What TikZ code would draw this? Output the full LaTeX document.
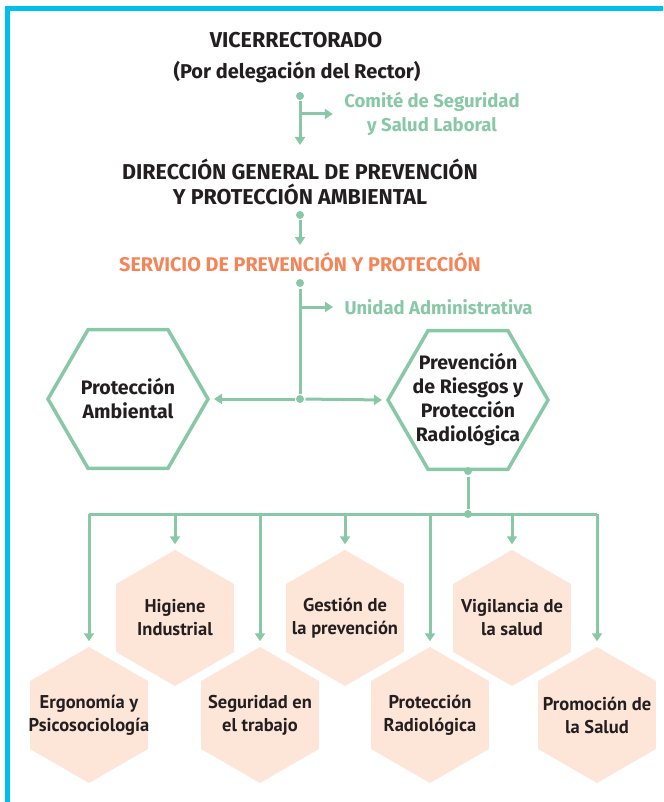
\documentclass[tikz,border=0pt]{standalone}
\usepackage{fontspec}
\setmainfont{Fira Sans}
\newfontfamily\narrowfont{PT Sans}
\usetikzlibrary{arrows.meta,shapes.geometric}
\definecolor{verde}{RGB}{136,200,166}
\definecolor{melocoton}{RGB}{253,229,216}
\definecolor{naranja}{RGB}{243,133,89}
\definecolor{celeste}{RGB}{0,190,240}
\definecolor{tinta}{RGB}{35,31,32}

\def\ux{1pt}
\def\uy{-1pt}

\begin{document}
\begin{tikzpicture}[x=\ux,y=\uy,font=\bfseries,line width=3pt]
		\tikzset{
			link/.style={draw=verde, -{Triangle[width=10pt,length=8pt]}},
			plain/.style={draw=verde},
			dot/.style={circle, fill=verde, inner sep=0pt, minimum size=8pt},
			head/.style={text=tinta, align=center, inner sep=0pt,
				font=\bfseries\fontsize{21.5}{25}\selectfont},
			side/.style={text=verde, align=center, inner sep=0pt,
				font=\bfseries\fontsize{18.5}{24}\selectfont},
			area/.style={regular polygon, regular polygon sides=6, draw=verde,
				line width=3.5pt, minimum size=160pt, inner sep=0pt},
			areatext/.style={text=tinta, align=center,
				font=\bfseries\fontsize{19.5}{24}\selectfont},
			unit/.style={regular polygon, regular polygon sides=6,
				shape border rotate=90, fill=melocoton, minimum size=136pt, inner sep=0pt},
			unittext/.style={text=tinta, align=center,
				font=\narrowfont\bfseries\fontsize{18.5}{23}\selectfont},
		}
		\useasboundingbox (0,0) rectangle (663,802);
		\draw[celeste, line width=5pt] (7.5,802) -- (7.5,8.5) -- (663,8.5);

		\node[head] (vice) at (296,40) {VICERRECTORADO};
		\node[head, font=\bfseries\fontsize{20}{25}\selectfont] (deleg) at (297,72) {(Por delegación del Rector)};
		\node[dot] (d1) at (300,96) {};
		\coordinate (c1) at (300,145);
		\draw[link] (d1) -- (c1);
		\node[side] (comite) at (432,114) {Comité de Seguridad\\y Salud Laboral};
		\draw[link, shorten >=10pt] (d1 |- comite.west) -- (comite.west);

		\node[head] (direccion) at (300,182) {DIRECCIÓN GENERAL DE PREVENCIÓN\\Y PROTECCIÓN AMBIENTAL};
		\node[dot] (d2) at (300,215) {};
		\coordinate (c2) at (300,245);
		\draw[link] (d2) -- (c2);

		\node[head, text=naranja, font=\bfseries\fontsize{19.8}{25}\selectfont] (servicio) at (300,262) {SERVICIO DE PREVENCIÓN Y PROTECCIÓN};
		\node[dot] (d3) at (300,283) {};
		\node[dot] (j) at (300,399) {};
		\draw[plain] (d3) -- (j);
		\node[side, anchor=west] (unidad) at (343,307) {Unidad Administrativa};
		\draw[link, shorten >=10pt] (d3 |- unidad.west) -- (unidad.west);

		\node[area, label={[areatext]center:{Protección\\Ambiental}}] (ambiental) at (128,399) {};
		\node[area, label={[areatext]center:{Prevención\\de Riesgos y\\Protección\\Radiológica}}] (riesgos) at (468,400) {};
		\draw[link, shorten >=4pt] (j) -- (ambiental.east);
		\draw[link, shorten >=4pt] (j) -- (riesgos.west);

		\node[dot] (d4) at (riesgos.south) {};
		\node[dot] (bar) at (468,514) {};
		\draw[plain] (d4) -- (bar);

		\foreach \n/\x/\y/\txt in {1/89/715/{Ergonomía y\\Psicosociología},
			2/175/618/{Higiene\\Industrial},
			3/260/715/{Seguridad en\\el trabajo},
			4/345/618/{Gestión de\\la prevención},
			5/430/715/{Protección\\Radiológica},
			6/512/618/{Vigilancia de\\la salud},
			7/597/715/{Promoción de\\la Salud}}{
			\node[unit, label={[unittext]center:{\txt}}] (u\n) at (\x,\y) {};
			\draw[link, shorten >=4pt] (u\n.north |- bar) -- (u\n.north);
		}
		\draw[plain] (u1.north |- bar) -- (u7.north |- bar);

		\end{tikzpicture}
\end{document}
